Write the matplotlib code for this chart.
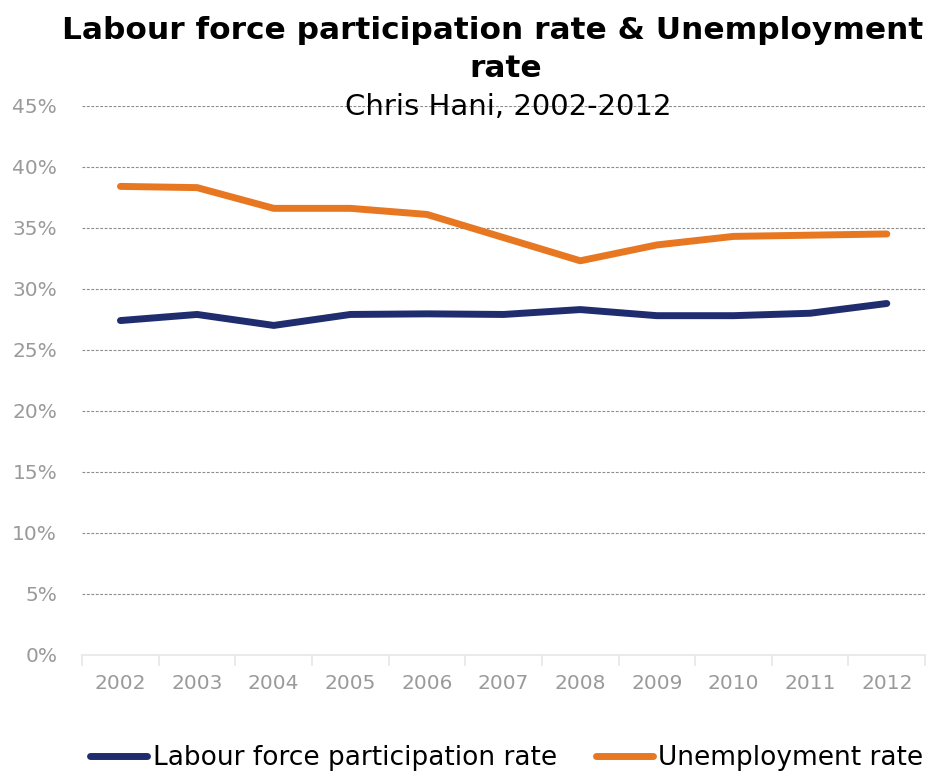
import matplotlib
matplotlib.use("Agg")
import matplotlib.pyplot as plt
import numpy as np
from matplotlib.ticker import FixedLocator, PercentFormatter

years = ["2002", "2003", "2004", "2005", "2006", "2007", "2008", "2009", "2010", "2011", "2012"]
participation = [27.4, 27.9, 27.0, 27.9, 27.95, 27.9, 28.3, 27.8, 27.8, 28.0, 28.8]
unemployment = [38.4, 38.3, 36.6, 36.6, 36.1, 34.2, 32.3, 33.6, 34.3, 34.4, 34.5]

navy = "#1f2d6e"
orange = "#e87722"
grey_txt = "#9a9a9a"

fig = plt.figure(figsize=(9.44, 7.73), dpi=100)
ax = fig.add_axes([0.087, 0.153, 0.893, 0.710])

x = np.arange(len(years))
ax.plot(x, participation, color=navy, lw=5, solid_capstyle="round",
        solid_joinstyle="round", label="Labour force participation rate")
ax.plot(x, unemployment, color=orange, lw=5, solid_capstyle="round",
        solid_joinstyle="round", label="Unemployment rate")

ax.set_xlim(-0.5, len(years) - 0.5)
ax.set_ylim(0, 45)
ax.set_yticks(np.arange(0, 46, 5))
ax.yaxis.set_major_formatter(PercentFormatter(decimals=0))
ax.set_xticks(x)
ax.set_xticklabels(years)
ax.xaxis.set_minor_locator(FixedLocator(np.arange(-0.5, len(years), 1.0)))

# dashed horizontal grid, skip the baseline
for v in np.arange(5, 46, 5):
    ax.axhline(v, color="#8c8c8c", lw=0.8, ls=(0, (2.5, 1.5)), zorder=0)

for s in ["top", "right", "left"]:
    ax.spines[s].set_visible(False)
ax.spines["bottom"].set_color("#e6e6e6")
ax.spines["bottom"].set_linewidth(1.2)

ax.tick_params(axis="y", length=0, pad=18, labelsize=14.5, labelcolor=grey_txt)
ax.tick_params(axis="x", which="major", length=0, pad=14, labelsize=14.5, labelcolor=grey_txt)
ax.tick_params(axis="x", which="minor", length=8, width=1.2, color="#e6e6e6")

fig.text(0.522, 0.961, "Labour force participation rate & Unemployment",
         ha="center", va="center", fontsize=22.5, fontweight="bold")
fig.text(0.536, 0.912, "rate", ha="center", va="center",
         fontsize=22.5, fontweight="bold")
fig.text(0.538, 0.862, "Chris Hani, 2002-2012", ha="center", va="center",
         fontsize=21, color="black")

leg = fig.legend(loc="center", bbox_to_anchor=(0.537, 0.019), ncol=2,
                 frameon=False, fontsize=19, handlelength=2.15,
                 handletextpad=0.2, columnspacing=1.5, borderpad=0)
for line in leg.get_lines():
    line.set_linewidth(5)

fig.savefig("out.png", dpi=100, facecolor="white")
